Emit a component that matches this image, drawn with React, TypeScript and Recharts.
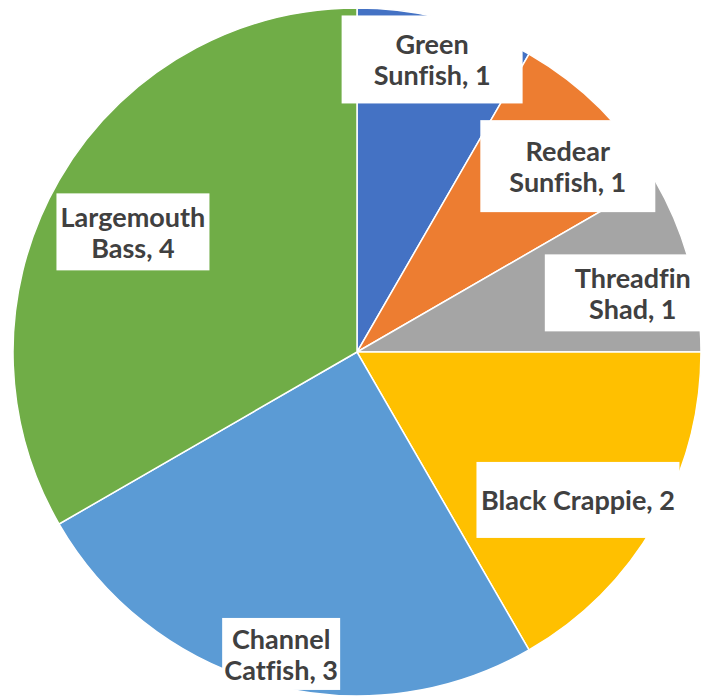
import { PieChart, Pie, Cell } from 'recharts';

// Fish species counts
const SPECIES = ['Green Sunfish', 'Redear Sunfish', 'Threadfin Shad', 'Black Crappie', 'Channel Catfish', 'Largemouth Bass'];
const COUNTS = [1, 1, 1, 2, 3, 4];
const COLORS = ['#4472C4', '#ED7D31', '#A5A5A5', '#FFC000', '#5B9BD5', '#70AD47'];

// label box placement: radius ratio, angle nudge (deg), box size, wrap after first word
const LABEL_LAYOUT = [
  { r: 0.878, da: 0.6, w: 181, h: 88, wrap: true },
  { r: 0.817, da: -3.6, w: 175, h: 92, wrap: true },
  { r: 0.82, da: -2.9, w: 176, h: 77, wrap: true },
  { r: 0.773, da: -3.8, w: 203, h: 76, wrap: false },
  { r: 0.905, da: 0.9, w: 118, h: 72, wrap: true },
  { r: 0.739, da: 1.8, w: 153, h: 77, wrap: true },
];

const data = SPECIES.map((name, i) => ({ name, value: COUNTS[i] }));

const RAD = Math.PI / 180;
const FONT = 'Lato, "Open Sans", sans-serif';

function renderLabel(props: any) {
  const { cx, cy, midAngle, outerRadius, index, name, value } = props;
  const lay = LABEL_LAYOUT[index];
  const a = (midAngle + lay.da) * RAD;
  const r = outerRadius * lay.r;
  const x = cx + r * Math.cos(a);
  const y = cy - r * Math.sin(a);
  const full = `${name}, ${value}`;
  let lines = [full];
  if (lay.wrap) {
    const sp = full.indexOf(' ');
    lines = [full.slice(0, sp), full.slice(sp + 1)];
  }
  const lh = 31;
  return (
    <g key={`lbl-${index}`}>
      <rect x={x - lay.w / 2} y={y - lay.h / 2} width={lay.w} height={lay.h} fill="#ffffff" />
      {lines.map((ln, j) => (
        <text
          key={j}
          x={x}
          y={y + (j - (lines.length - 1) / 2) * lh}
          textAnchor="middle"
          dominantBaseline="central"
          fill="#404040"
          fontFamily={FONT}
          fontWeight={700}
          fontSize={27}
          style={{ fontVariantLigatures: 'none' }}
        >
          {ln}
        </text>
      ))}
    </g>
  );
}

export default function App() {
  return (
    <div style={{ position: 'absolute', left: 0, top: 0, width: 720, height: 696, background: '#fff' }}>
      <PieChart width={720} height={696} margin={{ top: 0, right: 0, bottom: 0, left: 0 }}>
        <Pie
          data={data}
          dataKey="value"
          nameKey="name"
          cx={357}
          cy={352}
          outerRadius={344}
          startAngle={90}
          endAngle={-270}
          stroke="#ffffff"
          strokeWidth={1.5}
          label={renderLabel}
          labelLine={false}
          isAnimationActive={false}
        >
          {data.map((_, i) => (
            <Cell key={i} fill={COLORS[i]} />
          ))}
        </Pie>
      </PieChart>
    </div>
  );
}
